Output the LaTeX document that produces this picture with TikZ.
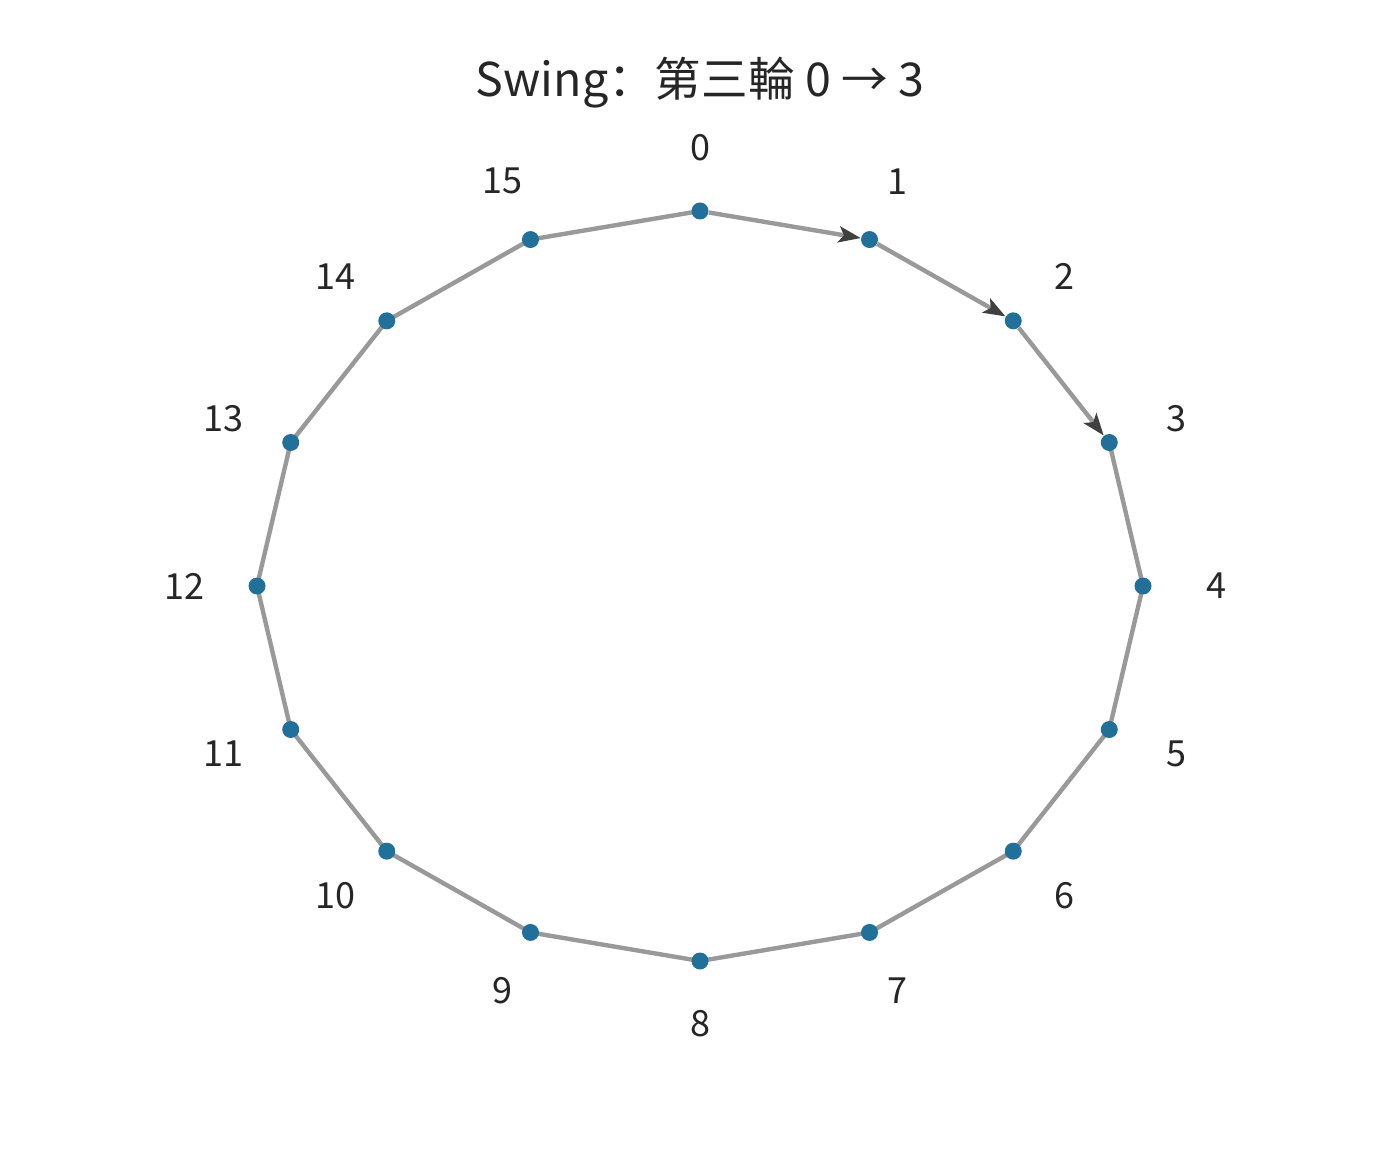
\documentclass[tikz,border=0pt]{standalone}
\usepackage{fontspec}
\setmainfont{Noto Sans CJK SC}
\usepackage{tikz}
\usetikzlibrary{arrows.meta, positioning}

\definecolor{dotblue}{HTML}{21709A}
\definecolor{edgegray}{HTML}{999999}
\definecolor{tipgray}{HTML}{404040}
\definecolor{txtdark}{HTML}{262626}

\begin{document}
\begin{tikzpicture}[x=0.5pt, y=0.5pt,
    dot/.style={circle, fill=dotblue, inner sep=0pt, minimum size=8.5pt},
    ringedge/.style={draw=edgegray, line width=2.2pt},
    passedge/.style={ringedge, -{Stealth[length=11pt, width=8pt, inset=2.5pt, fill=tipgray, color=tipgray]}},
    lbl/.style={text=txtdark, font=\fontsize{18}{21}\selectfont}]
    \useasboundingbox (0,0) rectangle (1400,1152);

    % Title
    \node[text=txtdark, font=\fontsize{23.3}{27}\selectfont] (title) at (700,1069) {Swing：第三輪 0 → 3};

    % Positions on the ring
    \foreach \i in {0,...,15} {
        \coordinate (p\i) at ({700+443*sin(22.5*\i)}, {566+375*cos(22.5*\i)});
        \node[lbl] (l\i) at ({700+516*sin(22.5*\i)}, {566+438*cos(22.5*\i)}) {\i};
    }

    % Ring edges
    \foreach \i [evaluate=\i as \j using {int(mod(\i+1,16))}] in {3,...,15} {
        \draw[ringedge] (p\i) -- (p\j);
    }

    % Nodes
    \foreach \i in {0,...,15} {
        \node[dot] (n\i) at (p\i) {};
    }

    % Passed edges of this round
    \draw[passedge] (n0) -- (n1);
    \draw[passedge] (n1) -- (n2);
    \draw[passedge] (n2) -- (n3);
\end{tikzpicture}
\end{document}
